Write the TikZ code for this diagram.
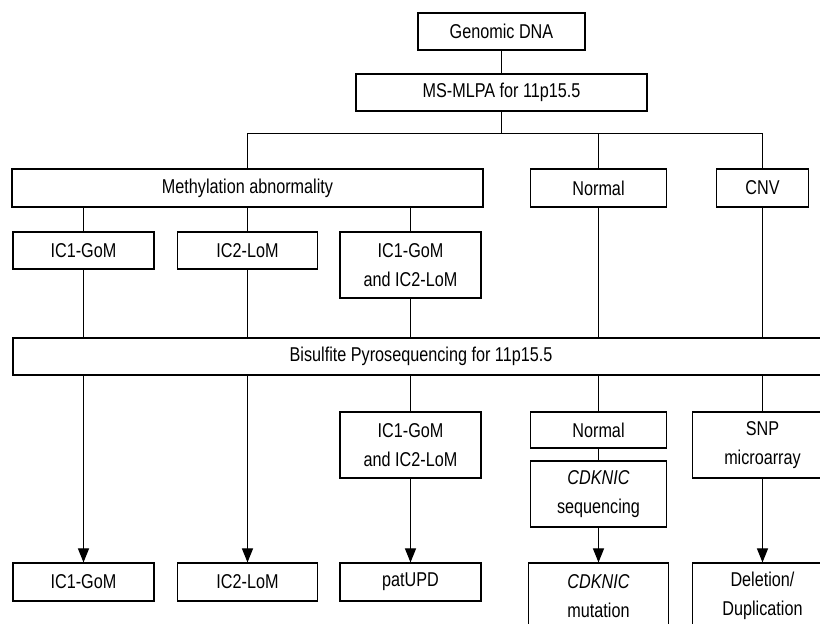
\documentclass[tikz,border=0pt]{standalone}
\usepackage{fontspec}
\setmainfont[FakeStretch=0.81]{Liberation Sans}
\usetikzlibrary{arrows.meta}
\tikzset{
  box/.style={draw,line width=0.55pt,inner sep=0pt,align=center,font=\fontsize{10}{14.3}\selectfont},
  onebox/.style={box,minimum height=18.5pt},
  twobox/.style={box,minimum height=33pt},
}
\begin{document}
\begin{tikzpicture}[>={Triangle[width=5.5pt,length=7pt]},x=0.5pt,y=-0.5pt,line width=0.55pt]
\useasboundingbox (0,0) rectangle (820,624);
% screening
\node[onebox,minimum width=83.5pt] (dna) at (501.5,31.5) {Genomic DNA};
\node[onebox,minimum width=145.5pt] (mlpa) at (501.5,92.5) {MS-MLPA for 11p15.5};
\coordinate (bar) at (501.5,133.5);
\node[onebox,minimum width=235.5pt,minimum height=19pt] (meth) at (247.5,188) {Methylation abnormality};
\node[onebox,minimum width=68pt,minimum height=19pt] (normA) at (598.5,188) {Normal};
\node[onebox,minimum width=46pt,minimum height=19pt] (cnv) at (762.5,188) {CNV};
\node[onebox,minimum width=70.5pt] (gomA) at (83.5,250.5) {IC1-GoM};
\node[onebox,minimum width=70pt] (lomA) at (247.5,250.5) {IC2-LoM};
\node[twobox,minimum width=70.5pt] (bothA) at (410.5,265) {IC1-GoM\\and IC2-LoM};
% confirmation
\node[onebox,minimum width=408pt] (bis) at (421,356.5) {Bisulfite Pyrosequencing for 11p15.5};
\node[twobox,minimum width=70.5pt] (bothB) at (410.5,445) {IC1-GoM\\and IC2-LoM};
\node[onebox,minimum width=68pt,minimum height=18pt] (normB) at (598.5,430) {Normal};
\node[twobox,minimum width=68pt] (cdk) at (598.5,494) {\textit{CDKNIC}\\sequencing};
\node[twobox,minimum width=70pt] (snp) at (762.5,445) {SNP\\microarray};
% results
\node[onebox,minimum width=70.5pt,minimum height=19pt] (gomB) at (83.5,582) {IC1-GoM};
\node[onebox,minimum width=70pt,minimum height=19pt] (lomB) at (247.5,582) {IC2-LoM};
\node[onebox,minimum width=70.5pt,minimum height=19pt] (upd) at (410.5,582) {patUPD};
\node[twobox,minimum width=70pt] (mut) at (598.5,596) {\textit{CDKNIC}\\mutation};
\node[twobox,minimum width=70pt] (del) at (762.5,596) {Deletion/\\Duplication};
% connectors
\draw (dna) -- (mlpa);
\draw (mlpa) -- (bar);
\draw (meth.north) |- (bar) -| (cnv.north);
\draw (normA.north) -- (normA.north |- bar);
\foreach \n in {gomA,lomA,bothA}
  \draw (\n.north |- meth.south) -- (\n.north);
\foreach \n in {gomA,lomA,bothA,normA,cnv}
  \draw (\n.south) -- (\n.south |- bis.north);
\draw[->] (gomB.north |- bis.south) -- (gomB.north);
\draw[->] (lomB.north |- bis.south) -- (lomB.north);
\foreach \n in {bothB,normB,snp}
  \draw (\n.north |- bis.south) -- (\n.north);
\draw (normB) -- (cdk);
\draw[->] (bothB) -- (upd);
\draw[->] (cdk) -- (mut);
\draw[->] (snp) -- (del);
\end{tikzpicture}
\end{document}
